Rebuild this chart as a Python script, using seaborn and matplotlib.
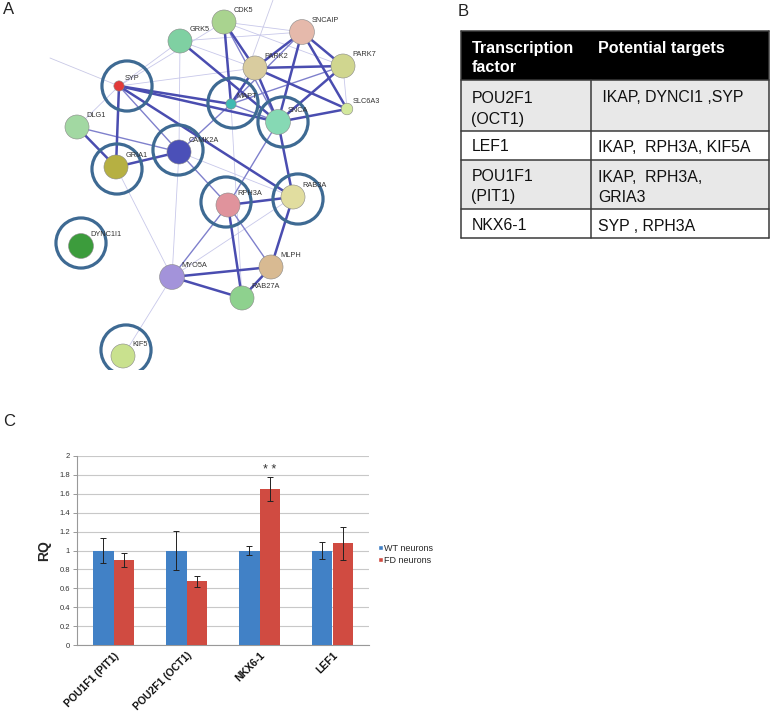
import matplotlib
matplotlib.use("Agg")
import matplotlib.pyplot as plt
import numpy as np
import pandas as pd
import seaborn as sns

# ---------------- Data ----------------
# Panel C
genes = ["POU1F1 (PIT1)", "POU2F1 (OCT1)", "NKX6-1", "LEF1"]
wt_values = [1.0, 1.0, 1.0, 1.0]
fd_values = [0.90, 0.675, 1.65, 1.075]
wt_errors = [0.135, 0.205, 0.05, 0.09]
fd_errors = [0.075, 0.06, 0.125, 0.175]
group_names = ["WT neurons", "FD neurons"]
yticks = [0, 0.2, 0.4, 0.6, 0.8, 1, 1.2, 1.4, 1.6, 1.8, 2]
ytick_labels = ["0", "0.2", "0.4", "0.6", "0.8", "1", "1.2", "1.4", "1.6", "1.8", "2"]

# Panel A network
node_names = ["CDK5", "SNCAIP", "GRK5", "PARK2", "PARK7", "SYP", "MAPT", "SLC6A3",
              "SNCA", "DLG1", "CAMK2A", "GRIA1", "RPH3A", "RAB3A", "DYNC1I1",
              "MYO5A", "MLPH", "RAB27A", "KIF5"]
node_x = [224, 302, 180, 255, 343, 119, 231, 347, 278, 77, 179, 116, 228, 293, 81, 172, 271, 242, 123]
node_y = [22, 32, 41, 68, 66, 86, 104, 109, 122, 127, 152, 167, 205, 197, 246, 277, 267, 298, 356]
node_size = [300, 320, 300, 300, 300, 55, 55, 70, 320, 300, 300, 300, 300, 300, 320, 320, 300, 300, 300]
node_colors = ["#a9d38f", "#e5b9ab", "#7fd0a2", "#d9cc9f", "#d0d68f", "#e23a3a", "#40bab2",
               "#d3e89d", "#86d9b4", "#a2d8a2", "#4b50b8", "#b6b042", "#e0939c", "#e1dd9f",
               "#3c9c3c", "#a393da", "#d8ba92", "#8ed18e", "#c9e18e"]
node_labels = ["CDK5", "SNCAIP", "GRK5", "PARK2", "PARK7", "SYP", "MAPT", "SLC6A3",
               "SNCA", "DLG1", "CAMK2A", "GRIA1", "RPH3A", "RAB3A", "DYNC1I1",
               "MYO5A", "MLPH", "RAB27A", "KIF5"]
thick_edges = [("CDK5", "MAPT"), ("CDK5", "PARK2"), ("GRK5", "SNCA"), ("SNCAIP", "PARK2"),
               ("SNCAIP", "SNCA"), ("SNCAIP", "PARK7"), ("SNCAIP", "SLC6A3"),
               ("PARK2", "PARK7"), ("PARK2", "SNCA"), ("PARK2", "SLC6A3"), ("PARK2", "MAPT"),
               ("PARK7", "SNCA"), ("SNCA", "SLC6A3"), ("SYP", "SNCA"), ("SYP", "MAPT"),
               ("SYP", "GRIA1"), ("SYP", "RAB3A"), ("DLG1", "GRIA1"), ("GRIA1", "CAMK2A"),
               ("SNCA", "RAB3A"), ("RPH3A", "RAB3A"), ("RPH3A", "RAB27A"),
               ("MYO5A", "MLPH"), ("MYO5A", "RAB27A"), ("MLPH", "RAB27A"), ("RAB3A", "MLPH")]
medium_edges = [("SYP", "CAMK2A"), ("DLG1", "CAMK2A"), ("CAMK2A", "RPH3A"), ("SNCA", "RPH3A"),
                ("RPH3A", "MLPH"), ("RPH3A", "MYO5A"), ("CDK5", "SNCA"), ("MAPT", "SNCA"),
                ("PARK7", "MAPT"), ("SNCAIP", "MAPT"), ("CAMK2A", "MAPT")]
thin_edges = [("SYP", "GRK5"), ("SYP", "CDK5"), ("GRK5", "SNCAIP"), ("CDK5", "SNCAIP"),
              ("CDK5", "PARK7"), ("GRK5", "PARK2"), ("RAB3A", "MYO5A"), ("MYO5A", "KIF5"),
              ("MYO5A", "GRIA1"), ("MYO5A", "CAMK2A"), ("SYP", "PARK2"), ("DLG1", "SYP"),
              ("PARK7", "SLC6A3"), ("CAMK2A", "RAB3A"), ("MAPT", "RAB27A"), ("GRK5", "CAMK2A")]
ring_nodes = ["SYP", "MAPT", "SNCA", "CAMK2A", "GRIA1", "RPH3A", "RAB3A", "DYNC1I1", "KIF5"]
ring_dx = [8, 2, 5, -1, 1, -2, 5, 0, 3]
ring_dy = [0, -1, 0, -2, 2, -3, 2, -3, -6]

# Panel B table
table_header = [["Transcription", "factor"], ["Potential targets"]]
table_col1 = [["POU2F1", "(OCT1)"], ["LEF1"], ["POU1F1", "(PIT1)"], ["NKX6-1"]]
table_col2 = [[" IKAP, DYNCI1 ,SYP"], ["IKAP,  RPH3A, KIF5A"], ["IKAP,  RPH3A,", "GRIA3"], ["SYP , RPH3A"]]
row_bounds = [31, 80, 131, 160, 209, 238]
row_fill = ["#000000", "#e8e8e8", "#ffffff", "#e8e8e8", "#ffffff"]
# baselines of text lines (pixels from top)
col1_baselines = [[52.5, 72], [103, 124], [151], [181, 201], [230]]
col2_baselines = [[52.5], [102.5], [152.5], [182.5, 201.5], [231]]

# ---------------- Figure ----------------
sns.set_theme(style="white")
plt.rcParams["font.family"] = ["Liberation Sans", "DejaVu Sans"]
W, H = 772, 711
fig = plt.figure(figsize=(W / 100, H / 100), dpi=100)


def px_axes(x0, y0, x1, y1):
    return fig.add_axes([x0 / W, 1 - y1 / H, (x1 - x0) / W, (y1 - y0) / H])


# ---- Panel A ----
axA = px_axes(0, 0, 400, 370)
axA.set_xlim(0, 400)
axA.set_ylim(370, 0)
axA.axis("off")
pos = {n: (x, y) for n, x, y in zip(node_names, node_x, node_y)}
axA.plot([50, pos["SYP"][0]], [58, pos["SYP"][1]], color="#c9c9e6", lw=0.6, zorder=1)
axA.plot([273, pos["CDK5"][0] + 20], [0, 80], color="#c9c9e6", lw=0.6, zorder=1)
for a, b in thin_edges:
    axA.plot([pos[a][0], pos[b][0]], [pos[a][1], pos[b][1]], color="#c8c8ea", lw=0.6, zorder=1)
for a, b in medium_edges:
    axA.plot([pos[a][0], pos[b][0]], [pos[a][1], pos[b][1]], color="#7f80cc", lw=1.0, zorder=2)
for a, b in thick_edges:
    axA.plot([pos[a][0], pos[b][0]], [pos[a][1], pos[b][1]], color="#4a4db0", lw=1.8, zorder=3)
axA.scatter(node_x, node_y, s=node_size, c=node_colors, edgecolors="#888888",
            linewidths=0.4, zorder=4)
for n, lab, s in zip(node_names, node_labels, node_size):
    off = 7 if s > 100 else 4
    axA.annotate(lab, pos[n], xytext=(off, off - 1), textcoords="offset points",
                 fontsize=5.3, color="#333333", zorder=6, ha="left", va="bottom")
rx = [pos[n][0] + dx for n, dx in zip(ring_nodes, ring_dx)]
ry = [pos[n][1] + dy for n, dy in zip(ring_nodes, ring_dy)]
axA.scatter(rx, ry, s=1300, facecolors="none", edgecolors="#3e6a93", linewidths=2.3, zorder=5)

# ---- Panel B ----
axB = px_axes(430, 0, 772, 250)
axB.set_xlim(430, 772)
axB.set_ylim(250, 0)
axB.axis("off")
xl, xm, xr = 461, 591, 769
for i in range(len(row_bounds) - 1):
    axB.fill_between([xl, xr], row_bounds[i], row_bounds[i + 1], color=row_fill[i], lw=0, zorder=1)
lc = "#3a3a3a"
for yb in row_bounds:
    axB.plot([xl, xr], [yb, yb], color=lc, lw=1.1, zorder=2)
axB.plot([xl, xl], [row_bounds[0], row_bounds[-1]], color=lc, lw=1.1, zorder=2)
axB.plot([xr, xr], [row_bounds[0], row_bounds[-1]], color=lc, lw=1.1, zorder=2)
axB.plot([xm, xm], [row_bounds[1], row_bounds[-1]], color=lc, lw=1.1, zorder=2)

rows1 = [table_header[0]] + table_col1
rows2 = [table_header[1]] + table_col2
for r, (c1, c2, b1, b2) in enumerate(zip(rows1, rows2, col1_baselines, col2_baselines)):
    kw = dict(color="white", fontweight="bold", fontsize=11.6) if r == 0 else \
        dict(color="#111111", fontsize=11.4)
    for line, yb in zip(c1, b1):
        axB.text(xl + 10.5, yb, line, va="baseline", ha="left", zorder=3, **kw)
    for line, yb in zip(c2, b2):
        axB.text(xm + 7, yb, line, va="baseline", ha="left", zorder=3, **kw)

# ---- Panel C ----
axC = px_axes(77, 456, 369, 645)
df = pd.DataFrame({
    "gene": genes * 2,
    "group": [group_names[0]] * len(genes) + [group_names[1]] * len(genes),
    "RQ": wt_values + fd_values,
})
sns.barplot(data=df, x="gene", y="RQ", hue="group", hue_order=group_names, order=genes,
            palette=["#4181c6", "#d04b41"], width=0.56, saturation=1, ax=axC,
            errorbar=None, zorder=3)
for cont, errs in zip(axC.containers, [wt_errors, fd_errors]):
    for bar, e in zip(cont, errs):
        bar.set_edgecolor("none")
        cx = bar.get_x() + bar.get_width() / 2
        axC.errorbar(cx, bar.get_height(), yerr=e, fmt="none", ecolor="#222222",
                     elinewidth=0.7, capsize=2, capthick=0.7, zorder=4)
star_bar = axC.containers[1][2]
axC.text(star_bar.get_x() + star_bar.get_width() / 2,
         star_bar.get_height() + fd_errors[2] + 0.01, "* *",
         ha="center", va="bottom", fontsize=9, color="#333333")
axC.set_ylim(0, 2)
axC.set_xlim(-0.5, len(genes) - 0.5)
axC.set_yticks(yticks)
axC.set_yticklabels(ytick_labels, fontsize=5.5, color="#333333")
axC.yaxis.grid(True, color="#c8c8c8", lw=0.8, zorder=0)
axC.set_axisbelow(True)
axC.set_xticks(range(len(genes)))
axC.set_xticklabels(genes, rotation=45, ha="right", rotation_mode="anchor",
                    fontsize=7.5, fontweight="bold", color="#111111")
axC.set_xticks(np.arange(-0.5, len(genes), 1.0), minor=True)
axC.tick_params(axis="x", which="major", length=0, pad=4)
axC.tick_params(axis="x", which="minor", length=3, color="#999999", width=0.7, direction="out")
axC.tick_params(axis="y", which="major", length=3, color="#999999", width=0.7, pad=2,
                direction="out", left=True)
for s in ["top", "right"]:
    axC.spines[s].set_visible(False)
for s in ["left", "bottom"]:
    axC.spines[s].set_color("#999999")
    axC.spines[s].set_linewidth(0.8)
axC.set_xlabel("")
axC.set_ylabel("RQ", fontsize=10, fontweight="bold", labelpad=6)
leg = axC.legend(loc="center left", bbox_to_anchor=(1.02, 0.48), frameon=False,
                 fontsize=6.5, handlelength=0.5, handleheight=0.5, handletextpad=0.15,
                 labelspacing=0.35, borderaxespad=0)

# ---- panel letters ----
fig.text(3 / W, 1 - 10 / H, "A", fontsize=12, va="center", ha="left", color="#222222")
fig.text(458 / W, 1 - 11 / H, "B", fontsize=12, va="center", ha="left", color="#222222")
fig.text(3 / W, 1 - 422 / H, "C", fontsize=12, va="center", ha="left", color="#222222")

fig.savefig("out.png", dpi=100)
